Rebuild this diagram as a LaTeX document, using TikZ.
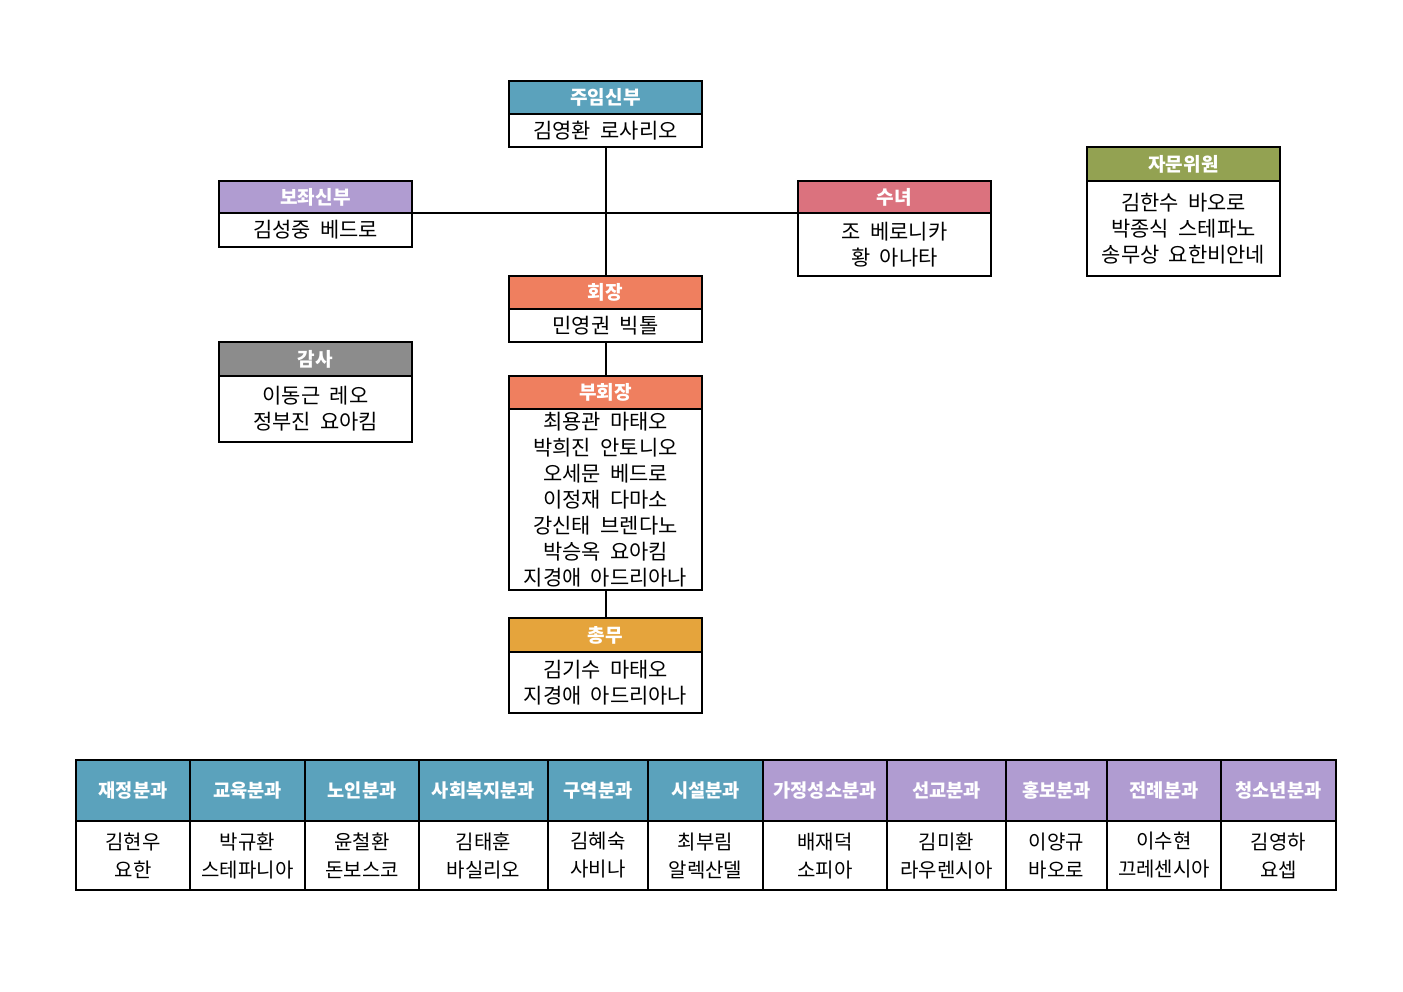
\documentclass[tikz,border=0pt]{standalone}
\usepackage{fontspec}
\setmainfont{Noto Sans CJK KR}
\definecolor{cteal}{HTML}{5BA2BC}
\definecolor{cpurp}{HTML}{B09CD1}
\definecolor{cpink}{HTML}{DB727E}
\definecolor{colive}{HTML}{93A252}
\definecolor{csalmon}{HTML}{EF7F5F}
\definecolor{cgray}{HTML}{8C8C8C}
\definecolor{cgold}{HTML}{E5A43C}
\begin{document}
\begin{tikzpicture}[x=0.75pt,y=-0.75pt,
  lw/.style={line width=1.5pt},
  head/.style={draw,lw,fill=#1,text=white,font=\fontsize{14.3}{16}\selectfont\bfseries,inner sep=0pt,outer sep=0pt,anchor=north west},
  body/.style={draw,lw,fill=white,align=center,font=\fontsize{15.7}{19.5}\selectfont,inner sep=0pt,outer sep=0pt,anchor=north west},
  thead/.style={draw,lw,fill=#1,text=white,font=\fontsize{14}{16}\selectfont\bfseries,inner sep=0pt,outer sep=0pt,anchor=north west},
  tbody/.style={draw,lw,fill=white,align=center,font=\fontsize{15}{21}\selectfont,inner sep=0pt,outer sep=0pt,anchor=north west},
  conn/.style={lw}]
\useasboundingbox (0,0) rectangle (1403,992);
\node[head=cteal,minimum width=193*0.75pt,minimum height=33*0.75pt] (pastorh) at (509,81) {주임신부};
\node[body,minimum width=193*0.75pt,minimum height=33*0.75pt] (pastorb) at (pastorh.south west) {김영환\ \ 로사리오};

\node[head=cpurp,minimum width=193*0.75pt,minimum height=32*0.75pt] (assth) at (219,181) {보좌신부};
\node[body,minimum width=193*0.75pt,minimum height=34*0.75pt] (asstb) at (assth.south west) {김성중\ \ 베드로};

\node[head=cpink,minimum width=193*0.75pt,minimum height=32*0.75pt] (nunh) at (798,181) {수녀};
\node[body,minimum width=193*0.75pt,minimum height=63*0.75pt] (nunb) at (nunh.south west) {조\ \ 베로니카\\황\ \ 아나타};

\node[head=colive,minimum width=193*0.75pt,minimum height=34*0.75pt] (advh) at (1087,147) {자문위원};
\node[body,minimum width=193*0.75pt,minimum height=95*0.75pt] (advb) at (advh.south west) {김한수\ \ 바오로\\박종식\ \ 스테파노\\송무상\ \ 요한비안네};

\node[head=csalmon,minimum width=193*0.75pt,minimum height=33*0.75pt] (presh) at (509,276) {회장};
\node[body,minimum width=193*0.75pt,minimum height=33*0.75pt] (presb) at (presh.south west) {민영권\ \ 빅톨};

\node[head=cgray,minimum width=193*0.75pt,minimum height=34*0.75pt] (audh) at (219,342) {감사};
\node[body,minimum width=193*0.75pt,minimum height=66*0.75pt] (audb) at (audh.south west) {이동근\ \ 레오\\정부진\ \ 요아킴};

\node[head=csalmon,minimum width=193*0.75pt,minimum height=33*0.75pt] (viceh) at (509,376) {부회장};
\node[body,minimum width=193*0.75pt,minimum height=181*0.75pt] (viceb) at (viceh.south west) {최용관\ \ 마태오\\박희진\ \ 안토니오\\오세문\ \ 베드로\\이정재\ \ 다마소\\강신태\ \ 브렌다노\\박승옥\ \ 요아킴\\지경애\ \ 아드리아나};

\node[head=cgold,minimum width=193*0.75pt,minimum height=34*0.75pt] (sech) at (509,618) {총무};
\node[body,minimum width=193*0.75pt,minimum height=61*0.75pt] (secb) at (sech.south west) {김기수\ \ 마태오\\지경애\ \ 아드리아나};

% connectors
\draw[conn] (pastorb.south) -- (presh.north);
\draw[conn] (assth.south east) -- (nunh.south west);
\draw[conn] (presb.south) -- (viceh.north);
\draw[conn] (viceb.south) -- (sech.north);

% table
\foreach \n/\xa/\xb/\c/\h/\b in {
  t1/76/190/cteal/재정분과/{김현우\\요한},
  t2/190/305/cteal/교육분과/{박규환\\스테파니아},
  t3/305/419/cteal/노인분과/{윤철환\\돈보스코},
  t4/419/548/cteal/사회복지분과/{김태훈\\바실리오},
  t5/548/648/cteal/구역분과/{김혜숙\\사비나},
  t6/648/763/cteal/시설분과/{최부림\\알렉산델},
  t7/763/887/cpurp/가정성소분과/{배재덕\\소피아},
  t8/887/1006/cpurp/선교분과/{김미환\\라우렌시아},
  t9/1006/1107/cpurp/홍보분과/{이양규\\바오로},
  t10/1107/1221/cpurp/전례분과/{이수현\\끄레센시아},
  t11/1221/1336/cpurp/청소년분과/{김영하\\요셉}}{
  \node[thead=\c,minimum width=(\xb-\xa)*0.75pt,minimum height=61*0.75pt] (\n h) at (\xa,760) {\h};
  \node[tbody,minimum width=(\xb-\xa)*0.75pt,minimum height=69*0.75pt] (\n b) at (\n h.south west) {\b};
}
\end{tikzpicture}
\end{document}
